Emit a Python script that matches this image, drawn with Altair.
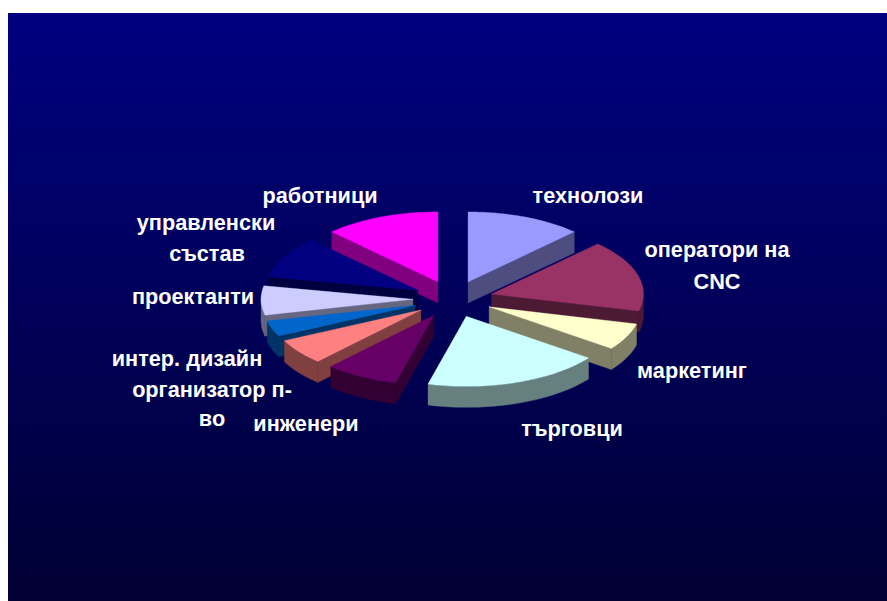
import math
import altair as alt

# Share of staff per occupation, clockwise from twelve o'clock (percent)
labels = ["технолози", "оператори на CNC", "маркетинг", "търговци", "инженери",
          "организатор п-во", "интер. дизайн", "проектанти", "управленски състав", "работници"]
shares = [12.3, 16.6, 6.2, 18.9, 7.8, 5.9, 3.6, 6.7, 9.6, 12.3]
top_colors = ["#9999FF", "#993366", "#FFFFCC", "#CCFFFF", "#660066",
              "#FF8080", "#0066CC", "#CCCCFF", "#000080", "#FF00FF"]
side_colors = ["#4D4D80", "#4D1A33", "#808066", "#668080", "#330033",
               "#804040", "#003366", "#666680", "#000040", "#800080"]

# Projected pie geometry
CX, CY, RX, RY = 453, 299, 152, 70
DEPTH, EXPLODE = 21, 0.263
W, H = 887, 601


def rim(angle, dx, dy, drop=0):
    return [dx + CX + RX * math.sin(angle), dy + CY - RY * math.cos(angle) + drop]


def polygon(points, fill):
    ring = [list(p) for p in points] + [list(points[0])]
    return {"type": "Feature", "properties": {"fill": fill},
            "geometry": {"type": "Polygon", "coordinates": [ring]}}


def arc_angles(a0, a1, step=math.radians(1.5)):
    n = max(2, int(abs(a1 - a0) / step) + 1)
    return [a0 + (a1 - a0) * i / n for i in range(n + 1)]


def slice_faces(a0, a1, top, side):
    mid = (a0 + a1) / 2
    dx = EXPLODE * RX * math.sin(mid)
    dy = -EXPLODE * RY * math.cos(mid)
    apex = [CX + dx, CY + dy]
    apex_low = [apex[0], apex[1] + DEPTH]
    faces = []
    # Radial walls that turn towards the viewer
    if math.sin(a0) < 0:
        faces.append(polygon([apex, rim(a0, dx, dy), rim(a0, dx, dy, DEPTH), apex_low], side))
    if math.sin(a1) > 0:
        faces.append(polygon([apex, rim(a1, dx, dy), rim(a1, dx, dy, DEPTH), apex_low], side))
    # Outer wall along the front half of the rim
    lo, hi = max(a0, math.pi / 2), min(a1, 3 * math.pi / 2)
    if hi > lo:
        angles = arc_angles(lo, hi)
        faces.append(polygon([rim(a, dx, dy) for a in angles]
                             + [rim(a, dx, dy, DEPTH) for a in reversed(angles)], side))
    faces.append(polygon([apex] + [rim(a, dx, dy) for a in arc_angles(a0, a1)], top))
    return mid, faces


total = sum(shares)
pieces, start = [], 0.0
for share, top, side in zip(shares, top_colors, side_colors):
    end = start + share / total * 2 * math.pi
    pieces.append(slice_faces(start, end, top, side))
    start = end

# Paint from the back of the pie towards the front
features = []
for _, faces in sorted(pieces, key=lambda p: -math.cos(p[0])):
    features.extend(faces)

label_rows = [
    {"line": "работници", "px": 320, "py": 196},
    {"line": "технолози", "px": 588, "py": 196},
    {"line": "оператори на", "px": 717, "py": 250},
    {"line": "CNC", "px": 717, "py": 282},
    {"line": "маркетинг", "px": 692, "py": 371},
    {"line": "търговци", "px": 572, "py": 429},
    {"line": "инженери", "px": 306, "py": 424},
    {"line": "организатор п-", "px": 212, "py": 390},
    {"line": "во", "px": 212, "py": 419},
    {"line": "интер. дизайн", "px": 187, "py": 359},
    {"line": "проектанти", "px": 193, "py": 297},
    {"line": "управленски", "px": 206, "py": 223},
    {"line": "състав", "px": 207, "py": 254},
]

backdrop = alt.Chart(alt.Data(values=[{}])).mark_rect(
    fill=alt.Gradient(gradient="linear", x1=0, x2=0, y1=0, y2=1,
                      stops=[alt.GradientStop(color="#000080", offset=0),
                             alt.GradientStop(color="#000033", offset=1)])
).encode(x=alt.value(8), x2=alt.value(W), y=alt.value(13), y2=alt.value(H))

pie = alt.Chart(alt.Data(values=features)).mark_geoshape(strokeWidth=0.4).encode(
    fill=alt.Fill("properties.fill:N", scale=None),
    stroke=alt.Stroke("properties.fill:N", scale=None),
).project(type="identity", scale=1, translate=[0, 0])

text = alt.Chart(alt.Data(values=label_rows)).mark_text(
    font="Liberation Sans", fontSize=21.7, fontWeight="bold", color="white",
    align="center", baseline="middle",
).encode(
    x=alt.X("px:Q", axis=None, scale=alt.Scale(domain=[0, W], nice=False, zero=False)),
    y=alt.Y("py:Q", axis=None, scale=alt.Scale(domain=[H, 0], nice=False, zero=False)),
    text="line:N",
)

chart = alt.layer(backdrop, pie, text).properties(
    width=W, height=H, padding=0, background="white",
    autosize=alt.AutoSizeParams(type="none"),
).configure_view(stroke=None)

chart.save("out.html", embed_options={"renderer": "svg", "actions": False})
